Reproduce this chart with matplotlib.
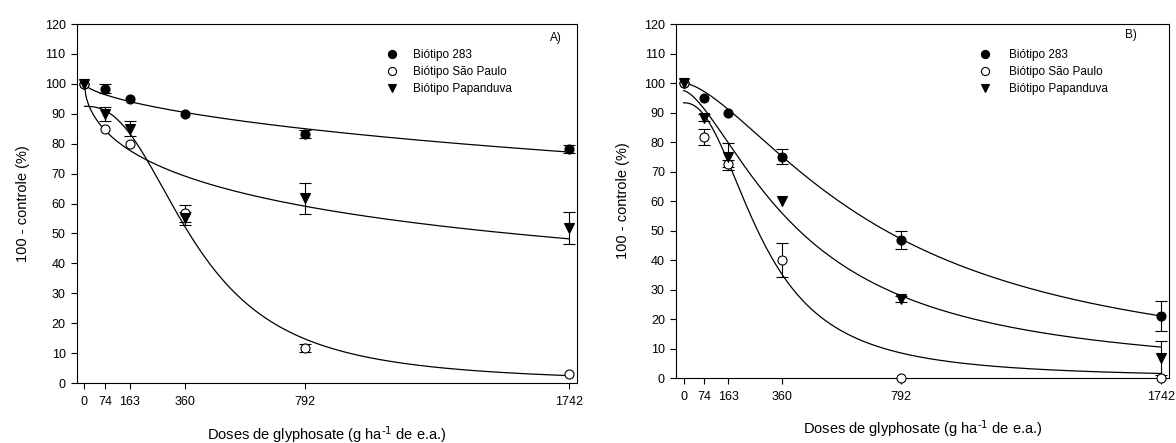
import numpy as np
import matplotlib.pyplot as plt

plt.rcParams['font.family'] = ['Liberation Sans', 'DejaVu Sans']
plt.rcParams['mathtext.default'] = 'regular'

doses = [0, 74, 163, 360, 792, 1742]
dose_labels = ['0', '74', '163', '360', '792', '1742']
biotypes = ['Biótipo 283', 'Biótipo São Paulo', 'Biótipo Papanduva']

# A) mean (100 - control) and standard error per dose
a_283 = [100, 98.3, 95, 90, 83.3, 78.3]
a_283_err = [0, 1.5, 0, 0, 1.4, 1.4]
a_sp = [100, 85, 80, 56.7, 11.7, 3]
a_sp_err = [0, 0, 0, 2.9, 1.4, 0]
a_pap = [100, 90, 85, 55, 61.7, 51.7]
a_pap_err = [0, 2.4, 2.5, 2.2, 5.2, 5.3]

# B)
b_283 = [100, 95, 90, 75, 46.7, 21]
b_283_err = [0, 0, 0, 2.5, 3.0, 5.0]
b_sp = [100, 81.7, 72.7, 40, 0, 0]
b_sp_err = [0, 2.8, 1.2, 5.7, 0, 0]
b_pap = [100, 88.3, 75, 60, 26.7, 6.7]
b_pap_err = [0, 1.3, 4.5, 0, 1.0, 5.8]

# log-logistic regressions y = top / (1 + (x/x50)^slope)
a_fits = [(100, 11281, 0.653), (92.5, 402, 2.45), (100, 1531, 0.559)]
b_fits = [(100, 736, 1.537), (93.3, 287.5, 2.27), (97.4, 436, 1.527)]

styles = [
    {'marker': 'o', 'mfc': 'black', 'ms': 6.5},
    {'marker': 'o', 'mfc': 'white', 'ms': 6.5},
    {'marker': 'v', 'mfc': 'black', 'ms': 6.5},
]


def loglogistic(x, top, x50, slope):
    return top / (1 + (x / x50) ** slope)


def draw_panel(ax, series, errors, fits, tag, tag_xy, leg_xy, leg_pad):
    xs = np.linspace(0, doses[-1], 400)
    for top, x50, slope in fits:
        ax.plot(xs, loglogistic(xs, top, x50, slope), color='black', lw=0.9, zorder=2)

    x = np.array(doses)
    for vals, errs, st, lab in zip(series, errors, styles, biotypes):
        vals = np.array(vals)
        errs = np.array(errs)
        m = errs > 0
        ax.errorbar(x[m], vals[m], yerr=errs[m], fmt='none', ecolor='black',
                    elinewidth=0.8, capsize=4, capthick=0.8, zorder=3)
        ax.plot(x, vals, linestyle='none', marker=st['marker'], ms=st['ms'],
                mfc=st['mfc'], mec='black', mew=0.8, label=lab, zorder=4,
                clip_on=False)

    ax.set_xlim(-28, 1770)
    ax.set_ylim(0, 120)
    ax.set_xticks(doses)
    ax.set_xticklabels(dose_labels)
    ax.set_yticks(range(0, 121, 10))
    ax.tick_params(axis='both', direction='out', length=4, width=0.8, labelsize=9)
    ax.tick_params(axis='x', pad=5.5)
    ax.tick_params(axis='y', pad=4)
    for spine in ax.spines.values():
        spine.set_linewidth(0.8)

    ax.set_xlabel(r'Doses de glyphosate (g ha$^{\text{-1}}$ de e.a.)', fontsize=10.5)
    ax.set_ylabel('100 - controle (%)', fontsize=10.5)

    ax.text(tag_xy[0], tag_xy[1], tag, transform=ax.transAxes, ha='right',
            va='center', fontsize=8.5)
    ax.legend(loc='upper left', bbox_to_anchor=leg_xy, frameon=False,
              fontsize=8.5, borderpad=0, borderaxespad=0, handlelength=1.0,
              handletextpad=leg_pad, labelspacing=0.42, numpoints=1,
              markerscale=0.9)


fig = plt.figure(figsize=(11.76, 4.43), dpi=100)
ax_a = fig.add_axes([0.0652, 0.1354, 0.4252, 0.8104])
ax_b = fig.add_axes([0.5748, 0.1467, 0.4192, 0.7991])

draw_panel(ax_a, [a_283, a_sp, a_pap], [a_283_err, a_sp_err, a_pap_err], a_fits,
           'A)', (0.97, 0.962), (0.618, 0.93), 1.33)
draw_panel(ax_b, [b_283, b_sp, b_pap], [b_283_err, b_sp_err, b_pap_err], b_fits,
           'B)', (0.9345, 0.968), (0.615, 0.929), 1.56)

ax_a.yaxis.set_label_coords(-0.094, 0.5)
ax_a.xaxis.set_label_coords(0.5, -0.113)
ax_b.yaxis.set_label_coords(-0.0925, 0.5)
ax_b.xaxis.set_label_coords(0.5, -0.112)

fig.savefig('out.png', dpi=100)
